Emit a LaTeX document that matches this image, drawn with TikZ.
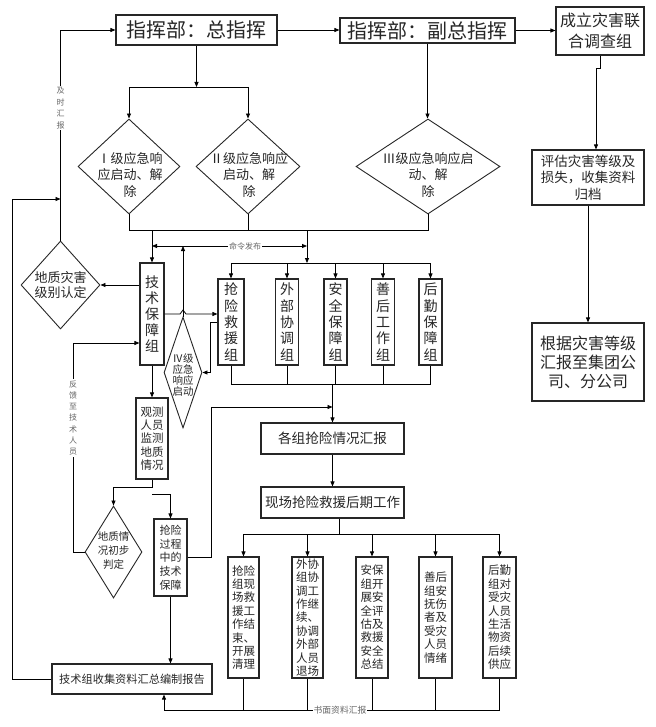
\documentclass[tikz,border=0pt]{standalone}
\usepackage{fontspec}
\setmainfont{Noto Sans CJK SC}
\usetikzlibrary{arrows.meta,shapes.geometric}
\newcommand\myfs[2]{\fontsize{#1}{#2}\selectfont}
\begin{document}
\begin{tikzpicture}[x=1pt,y=-1pt,
  line width=0.8pt,
  arr/.style={-{Triangle[length=5pt,width=4pt]}},
  darr/.style={{Triangle[length=5pt,width=4pt]}-{Triangle[length=5pt,width=4pt]}},
  box/.style={draw=black!85, line width=1.1pt, inner sep=0pt, align=center, text=black!85},
  dia/.style={draw=black!85, line width=0.9pt, diamond, inner sep=0pt},
  txt/.style={inner sep=0pt, align=center, text=black!85},
  lab/.style={inner sep=1pt, fill=white, align=center, text=black!60, font=\myfs{8}{11.5}},
]
\useasboundingbox (0,0) rectangle (655,727);

% top boxes
\node[box, minimum width=161pt, minimum height=30pt, font=\myfs{20}{22}] (zong) at (196.5,30) {指挥部：总指挥};
\node[box, minimum width=175pt, minimum height=25pt, font=\myfs{20}{22}] (fu) at (427.5,30.5) {指挥部：副总指挥};
\node[box, minimum width=88pt, minimum height=48pt, font=\myfs{16}{21}] (chengli) at (600,31) {成立灾害联\\合调查组};
\node[box, minimum width=112pt, minimum height=55pt, font=\myfs{13.5}{16.5}] (pinggu) at (588,177.5) {评估灾害等级及\\损失，收集资料\\归档};
\node[box, minimum width=112pt, minimum height=78pt, font=\myfs{16}{19}] (genju) at (588,362) {根据灾害等级\\汇报至集团公\\司、分公司};

% diamonds
\node[dia, minimum width=102pt, minimum height=95pt] (d1) at (129,166.5) {};
\node[txt, font=\myfs{13}{16.5}] (d1t) at (130,175) {Ⅰ级应急响\\应启动、解\\除};
\node[dia, minimum width=104pt, minimum height=95pt] (d2) at (248,166.5) {};
\node[txt, font=\myfs{13}{16.5}] (d2t) at (249,175) {Ⅱ级应急响应\\启动、解\\除};
\node[dia, minimum width=144pt, minimum height=95pt] (d3) at (428,166.5) {};
\node[txt, font=\myfs{13}{16.5}] (d3t) at (428,175) {Ⅲ级应急响应启\\动、解\\除};
\node[dia, minimum width=79pt, minimum height=88pt] (dizhi) at (60.5,285) {};
\node[txt, font=\myfs{13}{15.5}] (dizhit) at (60.5,285) {地质灾害\\级别认定};

% tech group
\node[box, minimum width=24pt, minimum height=102pt, font=\myfs{14}{15.8}] (jishu) at (152,314) {技\\术\\保\\障\\组};

% five groups
\node[box, minimum width=26pt, minimum height=86pt, font=\myfs{14}{16.3}] (g1) at (231,322) {抢\\险\\救\\援\\组};
\node[box, minimum width=23pt, minimum height=86pt, font=\myfs{14}{16.3}] (g2) at (287,322) {外\\部\\协\\调\\组};
\node[box, minimum width=23pt, minimum height=86pt, font=\myfs{14}{16.3}] (g3) at (335.5,322) {安\\全\\保\\障\\组};
\node[box, minimum width=23pt, minimum height=86pt, font=\myfs{14}{16.3}] (g4) at (383,322) {善\\后\\工\\作\\组};
\node[box, minimum width=23pt, minimum height=86pt, font=\myfs{14}{16.3}] (g5) at (430.5,322) {后\\勤\\保\\障\\组};

% IV diamond
\node[dia, minimum width=38pt, minimum height=111pt] (d4) at (183,372.5) {};
\node[txt, font=\myfs{10.5}{11.2}] (d4t) at (183,375) {Ⅳ级\\应急\\响应\\启动};

% observation etc.
\node[box, minimum width=32pt, minimum height=81pt, font=\myfs{11.5}{13.2}] (guance) at (152,438.5) {观测\\人员\\监测\\地质\\情况};
\node[dia, minimum width=57pt, minimum height=92pt] (chubu) at (113.5,552) {};
\node[txt, font=\myfs{10.5}{14}] (chubut) at (113.5,551) {地质情\\况初步\\判定};
\node[box, minimum width=33pt, minimum height=77pt, font=\myfs{11}{13.7}] (qxgc) at (170.5,557.5) {抢险\\过程\\中的\\技术\\保障};
\node[box, minimum width=160pt, minimum height=30pt, font=\myfs{11.2}{13}] (report) at (132,679) {技术组收集资料汇总编制报告};

% middle
\node[box, minimum width=143pt, minimum height=31pt, font=\myfs{13.6}{16}] (huibao) at (332.5,438.5) {各组抢险情况汇报};
\node[box, minimum width=143pt, minimum height=31pt, font=\myfs{13.5}{16}] (houqi) at (332.5,502.5) {现场抢险救援后期工作};

% bottom boxes
\node[box, minimum width=31pt, minimum height=121pt, font=\myfs{11.5}{13.4}] (b1) at (243.5,617.5) {抢险\\组现\\场救\\援工\\作结\\束、\\开展\\清理};
\node[box, minimum width=31pt, minimum height=121pt, font=\myfs{11.5}{13.4}] (b2) at (307.5,617.5) {外协\\组协\\调工\\作继\\续、\\协调\\外部\\人员\\退场};
\node[box, minimum width=32pt, minimum height=121pt, font=\myfs{11.5}{13.4}] (b3) at (372,617.5) {安保\\组开\\展安\\全评\\估及\\救援\\安全\\总结};
\node[box, minimum width=33pt, minimum height=121pt, font=\myfs{11.5}{13.4}] (b4) at (435.5,617.5) {善后\\组安\\抚伤\\者及\\受灾\\人员\\情绪};
\node[box, minimum width=33pt, minimum height=121pt, font=\myfs{11.5}{13.4}] (b5) at (499.5,617.5) {后勤\\组对\\受灾\\人员\\生活\\物资\\后续\\供应};

% helper coordinates
\coordinate (t1) at (196.5,87);
\coordinate (t2) at (152,230);
\coordinate (t3) at (307,230);
\coordinate (t4) at (307,263);
\coordinate (c1) at (152,246);
\coordinate (c2) at (307,246);
\coordinate (t5) at (332.5,384);
\coordinate (fb) at (332.5,407);
\coordinate (t6) at (339,534);
\coordinate (t7) at (164,710);
\coordinate (lft) at (12,199);
\coordinate (fk) at (73,343);
\coordinate (fr) at (152,494);
\coordinate (h1) at (180,314);
\coordinate (h2) at (183,310);
\coordinate (h3) at (186,314);

% top connectors
\draw[arr] (zong.east) -- (zong.east -| fu.west);
\draw[arr] (fu.east) -- (fu.east -| chengli.west);
\draw[arr] (chengli.south) -- ++(0,13) -| ([xshift=8pt]pinggu.north);
\draw[arr] (pinggu.south) -- (genju.north);
\draw[arr] (zong.south) -- (t1);
\draw (d1.north |- t1) -- (d2.north |- t1);
\draw[arr] (d1.north |- t1) -- (d1.north);
\draw[arr] (d2.north |- t1) -- (d2.north);
\draw[arr] (fu.south) -- (fu.south |- d3.north);

% below diamonds
\draw (d1.south) -- (d1.south |- t2) -- (d3.south |- t2) -- (d3.south);
\draw (d2.south) -- (d2.south |- t2);
\draw[arr] (t2) -- (jishu.north);
\draw[arr] (t3) -- (t4);
\draw (g1.north |- t4) -- (g5.north |- t4);
\foreach \g in {g1,g2,g3,g4,g5} \draw[arr] (\g.north |- t4) -- (\g.north);
\draw[darr] (c1) -- (c2) node[lab, pos=0.6] (mlfb) {命令发布};
\draw[arr] (d4.north) -- (d4.north |- c1);

% technical group links
\draw[arr] (jishu.east) -- (h1) -- (h2) -- (h3) -- (g1.west |- jishu.east);
\draw[arr] (g1.west) -- ++(-7,0) |- (d4.east);
\draw[arr] (jishu.west |- dizhi.east) -- (dizhi.east);
\draw[arr] (dizhi.north) |- (zong.west);
\node[lab] (jshb) at (60.5,108) {及\\时\\汇\\报};
\draw[arr] (report.west) -| (lft) -- (dizhi.north |- lft);
\draw[arr] (chubu.west) -| (fk) -- (jishu.west |- fk);
\node[lab, font=\myfs{8}{11.3}] (fkjs) at (73,418) {反\\馈\\至\\技\\术\\人\\员};
\draw[arr] (jishu.south) -- (guance.north);
\draw[arr] (guance.south) -- ++(0,8) -| (chubu.north);
\draw[arr] (fr) -| (qxgc.north);
\draw[arr] (qxgc.south) -- (qxgc.south |- report.north);
\draw[arr] (qxgc.east) -- ++(24,0) |- (fb);

% group bottoms
\draw (g1.south) -- (g1.south |- t5) -- (g5.south |- t5) -- (g5.south);
\foreach \g in {g2,g3,g4} \draw (\g.south) -- (\g.south |- t5);
\draw[arr] (t5) -- (huibao.north);
\draw[arr] (huibao.south) -- (houqi.north);
\draw ([xshift=6.5pt]houqi.south) -- (t6);
\draw (b1.north |- t6) -- (b5.north |- t6);
\foreach \b in {b1,b2,b3,b4,b5} \draw[arr] (\b.north |- t6) -- (\b.north);

% bottom return
\draw[arr] (t7) -- (t7 |- report.south);
\draw (t7) -- (b5.south |- t7) -- (b5.south);
\foreach \b in {b1,b2,b3,b4} \draw (\b.south) -- (\b.south |- t7);
\node[lab, font=\myfs{8.8}{10}] (smzl) at (340,710) {书面资料汇报};
\end{tikzpicture}
\end{document}
